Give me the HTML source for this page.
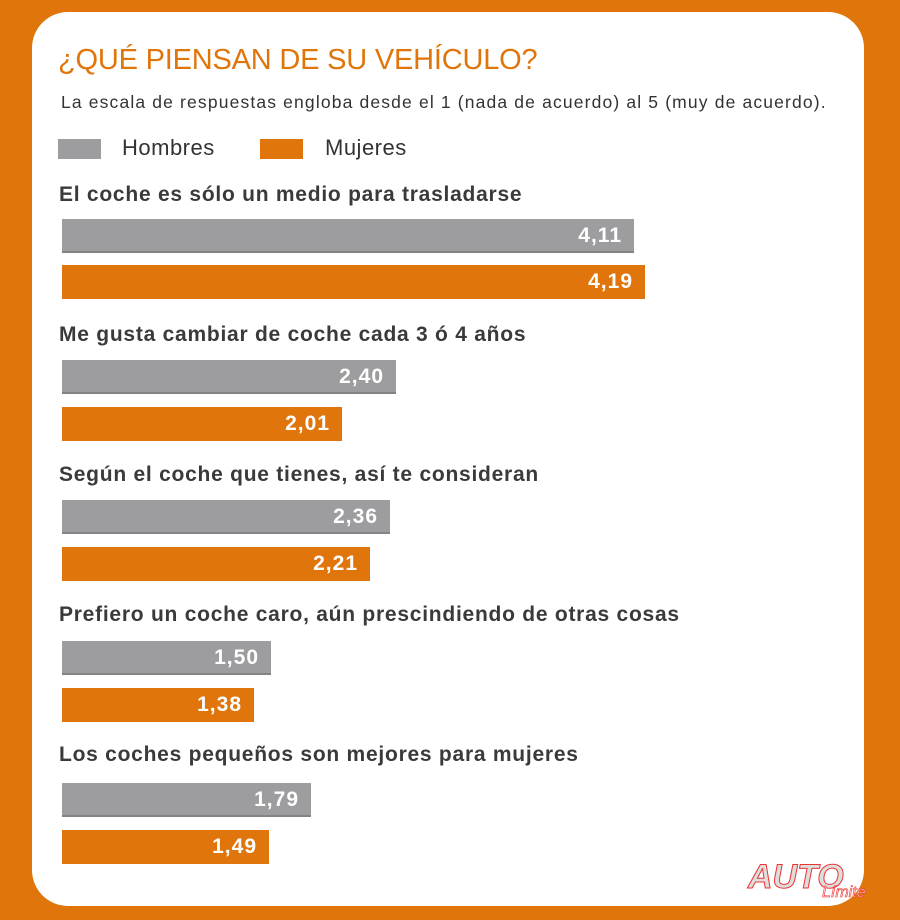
<!DOCTYPE html>
<html><head><meta charset="utf-8"><style>
body{margin:0;width:900px;height:920px;background:#e0750c;position:relative;overflow:hidden;font-family:"Liberation Sans",sans-serif}
.panel{position:absolute;left:32px;top:12px;width:832px;height:894px;background:#fff;border-radius:36px}
.t{position:absolute;white-space:nowrap}
.title{left:58px;top:44px;font-size:29px;color:#e0750c;letter-spacing:-0.2px}
.sub{left:61px;top:92px;font-size:17.5px;color:#333;letter-spacing:1.15px}
.lg{position:absolute;width:43px;height:20px;top:139px}
.lt{top:135px;font-size:22px;color:#333;letter-spacing:0.5px}
.lab{left:59px;font-size:21px;font-weight:bold;color:#3a3a3a;letter-spacing:0.75px}
.bar{position:absolute;left:62px;height:34px;color:#fff;font-weight:bold;font-size:21px;letter-spacing:1px;text-align:right;box-sizing:border-box;padding-right:12px;line-height:34px}
.g{background:#9d9d9f;border-bottom:2px solid #838385}
.o{background:#e0750c}
</style></head><body>
<div class="panel"></div>
<div class="t title">¿QUÉ PIENSAN DE SU VEHÍCULO?</div>
<div class="t sub">La escala de respuestas engloba desde el 1 (nada de acuerdo) al 5 (muy de acuerdo).</div>
<div class="lg" style="left:58px;background:#9d9d9f"></div><div class="t lt" style="left:122px">Hombres</div>
<div class="lg" style="left:260px;background:#e0750c"></div><div class="t lt" style="left:325px">Mujeres</div>

<div class="t lab" style="top:183px">El coche es sólo un medio para trasladarse</div>
<div class="bar g" style="top:219px;width:572px">4,11</div>
<div class="bar o" style="top:265px;width:583px">4,19</div>

<div class="t lab" style="top:323px">Me gusta cambiar de coche cada 3 ó 4 años</div>
<div class="bar g" style="top:360px;width:334px">2,40</div>
<div class="bar o" style="top:407px;width:280px">2,01</div>

<div class="t lab" style="top:463px">Según el coche que tienes, así te consideran</div>
<div class="bar g" style="top:500px;width:328px">2,36</div>
<div class="bar o" style="top:547px;width:308px">2,21</div>

<div class="t lab" style="top:603px">Prefiero un coche caro, aún prescindiendo de otras cosas</div>
<div class="bar g" style="top:641px;width:209px">1,50</div>
<div class="bar o" style="top:688px;width:192px">1,38</div>

<div class="t lab" style="top:743px">Los coches pequeños son mejores para mujeres</div>
<div class="bar g" style="top:783px;width:249px">1,79</div>
<div class="bar o" style="top:830px;width:207px">1,49</div>

<div class="t" style="left:748px;top:858px;font-size:34px;font-weight:bold;font-style:italic;color:#ddd;-webkit-text-stroke:1px #e33">AUTO</div>
<div class="t" style="left:822px;top:884px;font-size:16px;font-style:italic;color:#fdd;-webkit-text-stroke:0.6px #e33">Límite</div>
</body></html>
